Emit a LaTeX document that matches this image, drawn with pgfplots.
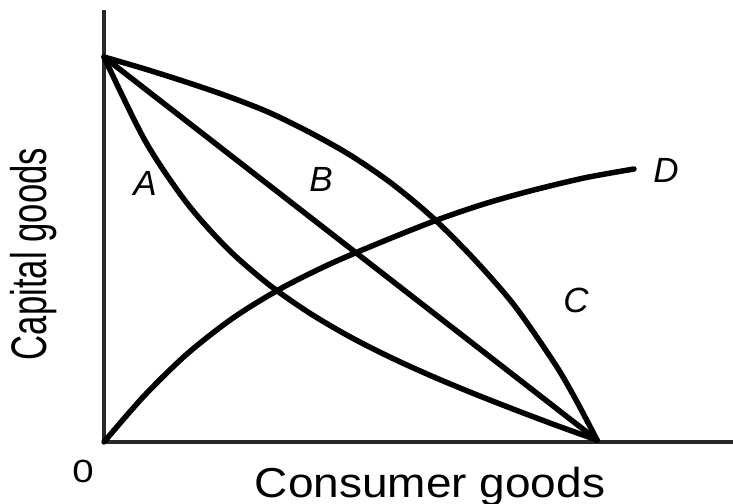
\documentclass[border=0pt]{standalone}
\usepackage{fontspec}
\setmainfont{Liberation Sans}
\usepackage{pgfplots}
\pgfplotsset{compat=1.18}
\definecolor{axisgray}{RGB}{40,40,40}
\begin{document}
\begin{tikzpicture}[x=1pt,y=1pt]
\useasboundingbox (0,0) rectangle (733,503);
\begin{axis}[
  at={(104pt,61pt)}, anchor=south west,
  scale only axis, width=629pt, height=432pt,
  xmin=0, xmax=629, ymin=0, ymax=432,
  axis x line=bottom, axis y line=left,
  axis line style={-, line width=3.2pt, color=axisgray},
  xtick=\empty, ytick=\empty,
  clip=false,
]
% A (convex)
\addplot[black, line width=5.5pt, smooth, line cap=round, line join=round] coordinates {
 (0,385) (41,301.4) (82,240.1) (123,193.9) (164,158.1) (205,129.3) (246,105.2) (287,84.4) (328,65.8) (369,48.7) (410,32.6) (451,17.1) (493,2)};
% B (straight)
\addplot[black, line width=5.5pt, line cap=round] coordinates {(0,385) (493,2)};
% C (concave)
\addplot[black, line width=5.5pt, smooth, line cap=round, line join=round] coordinates {
 (0,385) (41,373) (82,360) (123,346) (164,330) (205,310) (246,287) (287,259) (328,225) (369,184) (410,137) (451,78) (472,42) (493,2)};
% D
\addplot[black, line width=5.5pt, smooth, line cap=round, line join=round] coordinates {
 (0,0) (40,46) (83,88) (129,124) (176,153) (226,178) (280,201) (333,222) (380,238) (426,251) (480,264) (530,273)};

\node[font=\fontsize{35}{40}\selectfont\itshape] at (axis cs:41,259) {A};
\node[font=\fontsize{35}{40}\selectfont\itshape] at (axis cs:217,263) {B};
\node[font=\fontsize{35}{40}\selectfont\itshape] at (axis cs:472,142) {C};
\node[font=\fontsize{35}{40}\selectfont\itshape] at (axis cs:562,272) {D};
\node[font=\fontsize{32}{36}\selectfont] at (axis cs:-21,-29) {\scalebox{1.2}[1]{0}};
\node[font=\fontsize{46}{50}\selectfont, anchor=base] at (axis cs:326,-55) {\scalebox{1}[0.91]{Consumer goods}};
\node[font=\fontsize{34.7}{40}\selectfont, anchor=base, rotate=90] at (axis cs:-57,188) {\scalebox{1}[1.44]{Capital goods}};
\end{axis}
\end{tikzpicture}
\end{document}
